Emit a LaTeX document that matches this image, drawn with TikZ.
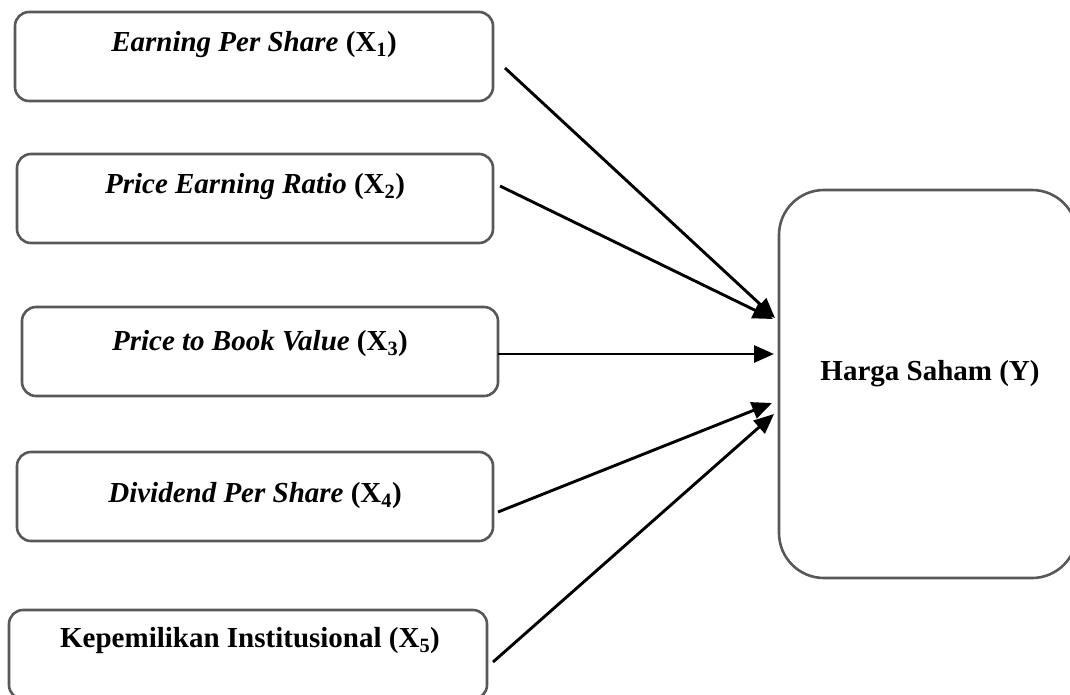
\documentclass[tikz,border=0pt]{standalone}
\usepackage{fontspec}
\setmainfont{Liberation Serif}
\usetikzlibrary{arrows.meta}
\definecolor{boxgray}{RGB}{88,88,88}
\begin{document}
\begin{tikzpicture}[x=1pt,y=-1pt,
  box/.style={draw=boxgray, line width=2.6pt, rounded corners=14pt,
              minimum height=89pt, inner sep=0pt},
  lbl/.style={font=\fontsize{29}{34}\selectfont\bfseries, inner sep=0pt},
  arr/.style={line width=2.9pt, -{Triangle[length=20pt,width=17pt]}}]
\useasboundingbox (0,0) rectangle (1070,694);
\clip (0,0) rectangle (1070,694);

% independent variables
\node[box, minimum width=478pt] (b1) at (254,56.5) {};
\node[box, minimum width=476pt] (b2) at (255,198.5) {};
\node[box, minimum width=476pt] (b3) at (260,351.5) {};
\node[box, minimum width=476pt] (b4) at (255,496.5) {};
\node[box, minimum width=478pt] (b5) at (248,654.5) {};

\node[lbl] (t1) at (254,45)  {\textit{Earning Per Share} ($\mathbf{X_1}$)};
\node[lbl] (t2) at (255,187) {\textit{Price Earning Ratio} ($\mathbf{X_2}$)};
\node[lbl] (t3) at (260,344) {\textit{Price to Book Value} ($\mathbf{X_3}$)};
\node[lbl] (t4) at (255,496) {\textit{Dividend Per Share} ($\mathbf{X_4}$)};
\node[lbl] (t5) at (250,641) {Kepemilikan Institusional ($\mathbf{X_5}$)};

% dependent variable
\node[box, rounded corners=45pt, minimum width=298pt, minimum height=388pt]
  (y) at (928,384) {};
\node[lbl] (ty) at (930,374) {Harga Saham (Y)};

% arrow end points
\coordinate (s1) at (505,68);  \coordinate (e1) at (775,318);
\coordinate (s2) at (500,186); \coordinate (e2) at (773,319);
\coordinate (s3) at (498,354); \coordinate (e3) at (774,354);
\coordinate (s4) at (498,512); \coordinate (e4) at (772,403);
\coordinate (s5) at (493,662); \coordinate (e5) at (774,414);

\draw[arr] (s1) -- (e1);
\draw[arr] (s2) -- (e2);
\draw[arr] (s3) -- (e3);
\draw[arr] (s4) -- (e4);
\draw[arr] (s5) -- (e5);
\end{tikzpicture}
\end{document}
